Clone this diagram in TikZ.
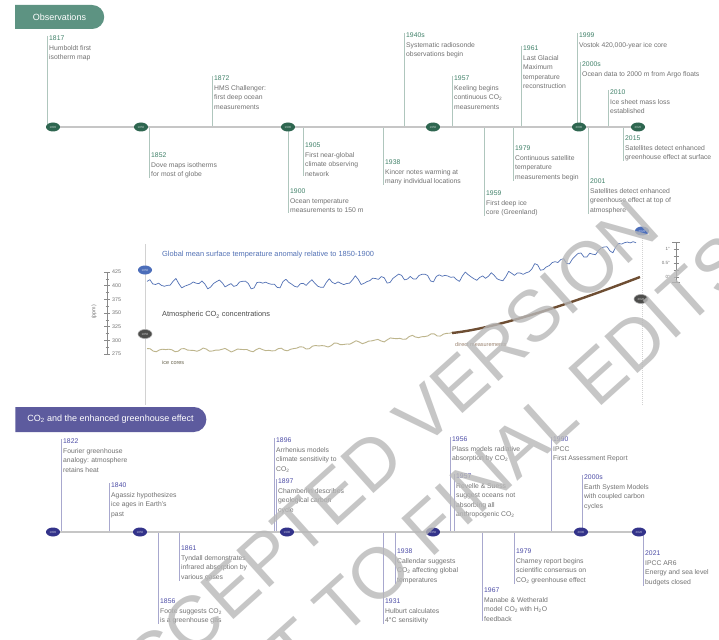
\documentclass[tikz,border=0pt]{standalone}
\usepackage{fontspec}
\setmainfont{Liberation Sans}
\usetikzlibrary{shapes.geometric,shapes.misc}
\definecolor{obsg}{HTML}{5D9382}
\definecolor{ogreen}{HTML}{2E6650}
\definecolor{otickc}{HTML}{AFC6BD}
\definecolor{oyr}{HTML}{3F8068}
\definecolor{txtgray}{HTML}{717171}
\definecolor{lineg}{HTML}{C6C6C6}
\definecolor{pban}{HTML}{5D5B9E}
\definecolor{pdotc}{HTML}{33338A}
\definecolor{ptickc}{HTML}{A8A8CE}
\definecolor{pyr}{HTML}{4B4BA5}
\definecolor{tblue}{HTML}{5271B5}
\definecolor{tdotc}{HTML}{4C6EBA}
\definecolor{cdotc}{HTML}{4D4D4B}
\definecolor{tanc}{HTML}{BDB58C}
\definecolor{brownc}{HTML}{6E4E33}
\definecolor{axg}{HTML}{D2D2D2}
\definecolor{axk}{HTML}{8A8A8A}
\definecolor{wmg}{HTML}{B8B8B8}
\newcommand{\cotwo}{CO\textsubscript{2}}
\newcommand{\oy}[1]{\textcolor{oyr}{#1}}
\newcommand{\py}[1]{\textcolor{pyr}{#1}}
\newcommand\evup[6]{%
  \node[evt] (#1) at (#2+2,#3) {#4};
  \coordinate (#1c) at (#2,#3);
  \draw[#6] (#1c) -- (#1c |- #5);
}
\newcommand\evdn[6]{%
  \node[evt] (#1) at (#2+2,#3) {#4};
  \coordinate (#1c) at (#2,#3);
  \draw[#6] (#1c |- #5) -- (#1c |- #1.south);
}
\tikzset{
  evt/.style={anchor=north west, align=left, inner sep=0pt, font=\fontsize{6.8}{9.4}\selectfont, text=txtgray},
  otick/.style={draw=otickc, line width=0.8pt},
  ptick/.style={draw=ptickc, line width=0.8pt},
  mainln/.style={draw=lineg, line width=1.8pt},
  banner/.style={rounded rectangle, rounded rectangle west arc=none, text=white, font=\fontsize{9}{9}\selectfont, inner sep=0pt},
  dotbase/.style={ellipse, minimum width=14pt, minimum height=9pt, inner sep=0pt, font=\fontsize{3}{3}\selectfont},
  odot/.style={dotbase, fill=ogreen, text=white!70!ogreen},
  pdot/.style={dotbase, fill=pdotc, text=white!70!pdotc},
  tdot/.style={dotbase, fill=tdotc, text=white!70!tdotc},
  cdot/.style={dotbase, fill=cdotc, draw=gray!70, line width=0.6pt, text=white!70!cdotc},
  axlbl/.style={inner sep=0pt, font=\fontsize{5.3}{5.3}\selectfont, text=txtgray},
  wm/.style={inner sep=0pt, text=wmg, text opacity=0.8, font=\fontsize{72}{72}\selectfont}
}
\begin{document}
\begin{tikzpicture}[x=1pt,y=-1pt]
\useasboundingbox (0,0) rectangle (719,639);
\fill[white] (0,0) rectangle (719,639);

% ---------------- Observations ----------------
\node[banner, fill=obsg, minimum width=89pt, minimum height=24pt] (obs) at (59.5,17) {Observations};
\coordinate (otl) at (0,127);

\evup{a1817}{47}{36}{\oy{1817}\\Humboldt first\\isotherm map}{otl}{otick}
\evup{a1872}{212}{76}{\oy{1872}\\HMS Challenger:\\first deep ocean\\measurements}{otl}{otick}
\evup{a1940}{404}{33}{\oy{1940s}\\Systematic radiosonde\\observations begin}{otl}{otick}
\evup{a1957}{452}{76}{\oy{1957}\\Keeling begins\\continuous \cotwo\\measurements}{otl}{otick}
\evup{a1961}{521}{46}{\oy{1961}\\Last Glacial\\Maximum\\temperature\\reconstruction}{otl}{otick}
\evup{a1999}{577}{33}{\oy{1999}\\Vostok 420,000-year ice core}{otl}{otick}
\evup{a2000}{580}{62}{\oy{2000s}\\Ocean data to 2000 m from Argo floats}{otl}{otick}
\evup{a2010}{608}{90}{\oy{2010}\\Ice sheet mass loss\\established}{otl}{otick}

\evdn{b1852}{149}{153}{\oy{1852}\\Dove maps isotherms\\for most of globe}{otl}{otick}
\evdn{b1900}{288}{189}{\oy{1900}\\Ocean temperature\\measurements to 150 m}{otl}{otick}
\evdn{b1905}{303}{143}{\oy{1905}\\First near-global\\climate observing\\network}{otl}{otick}
\evdn{b1938}{383}{160}{\oy{1938}\\Kincer notes warming at\\many individual locations}{otl}{otick}
\evdn{b1959}{484}{191}{\oy{1959}\\First deep ice\\core (Greenland)}{otl}{otick}
\evdn{b1979}{513}{146}{\oy{1979}\\Continuous satellite\\temperature\\measurements begin}{otl}{otick}
\evdn{b2001}{588}{179}{\oy{2001}\\Satellites detect enhanced\\greenhouse effect at top of\\atmosphere}{otl}{otick}
\evdn{b2015}{623}{136}{\oy{2015}\\Satellites detect enhanced\\greenhouse effect at surface}{otl}{otick}

\node[odot] (o1800) at (53,127) {1800};
\node[odot] (o1850) at (141,127) {1850};
\node[odot] (o1900) at (288,127) {1900};
\node[odot] (o1950) at (433,127) {1950};
\node[odot] (o2000) at (579,127) {2000};
\node[odot] (o2020) at (638,127) {2020};
\draw[mainln] (o1800) -- (o1850) (o1850) -- (o1900) (o1900) -- (o1950) (o1950) -- (o2000) (o2000) -- (o2020);

% ---------------- Chart ----------------
\draw[axg, line width=0.6pt] (145,244) -- (145,405);
\draw[axg, line width=0.6pt, dash pattern=on 1pt off 1pt] (642,238) -- (642,405);

\node[anchor=west, inner sep=0pt, font=\fontsize{7.4}{7.4}\selectfont, text=tblue] (ttl) at (162,255) {Global mean surface temperature anomaly relative to 1850-1900};
\node[anchor=west, inner sep=0pt, font=\fontsize{7.4}{7.4}\selectfont, text=black!70] (ctl) at (162,315) {Atmospheric \cotwo\ concentrations};
\node[anchor=west, inner sep=0pt, font=\fontsize{5.5}{5.5}\selectfont, text=black!45!tanc] (icl) at (162,363) {ice cores};
\node[anchor=west, inner sep=0pt, font=\fontsize{5.5}{5.5}\selectfont, text=brownc!70] (dml) at (455,345) {direct measurements};

\draw[tblue, line width=0.7pt, line join=round] plot[domain=147:636, samples=170]
  (\x, {((\x<322) ? 284 : ((\x<410) ? (284-7*(\x-322)/88) : ((\x<505) ? 277 : (277-36*(\x-505)/131)))) + 2.6*sin(16*mod(\x,22.5)) + 1.9*sin(26*mod(\x,13.846154)+30) + 1.3*sin(40*mod(\x,9)+70)});
\draw[tanc, line width=0.9pt, line join=round] plot[domain=147:456, samples=100]
  (\x, {((\x<280) ? 350 : (350-17*(\x-280)/176)) + 1.2*sin(19*mod(\x,18.947368)) + 0.8*sin(33*mod(\x,10.909091)+20)});
\draw[brownc, line width=2.4pt] (452,333) .. controls (500,328) and (580,300) .. (640,277);

\node[tdot] (t1850) at (145,270) {1850};
\node[cdot] (c1850) at (145,334) {1850};
\node[tdot] (t2020) at (642,231) {2020};
\node[cdot] (c2020) at (641,299) {2020};

% left ppm axis
\draw[axk, line width=0.6pt] (107,272) -- (107,354);
\foreach \v in {275,300,...,425} {
  \draw[axk, line width=0.6pt] (104,{354-(\v-275)*82/150}) -- (110,{354-(\v-275)*82/150});
  \node[axlbl, anchor=west] (ax\v) at (112,{354-(\v-275)*82/150}) {\v};
}
\foreach \v in {287.5,312.5,...,412.5} {
  \draw[axk, line width=0.5pt] (105.5,{354-(\v-275)*82/150}) -- (108.5,{354-(\v-275)*82/150});
}
\node[axlbl, rotate=90] (ppm) at (94,312) {(ppm)};

% right temperature scale
\draw[axk, line width=0.6pt] (676,242) -- (676,282);
\draw[axk, line width=0.6pt] (672,242) -- (680,242) (672,282) -- (680,282);
\foreach \yy in {249,256,263,270,277} {
  \draw[axk, line width=0.5pt] (673.5,\yy) -- (678.5,\yy);
}
\node[axlbl, anchor=east, font=\fontsize{4.5}{4.5}\selectfont] (r1) at (670,249) {1°};
\node[axlbl, anchor=east, font=\fontsize{4.5}{4.5}\selectfont] (r05) at (670,263) {0.5°};
\node[axlbl, anchor=east, font=\fontsize{4.5}{4.5}\selectfont] (r0) at (670,277) {0°};

% ---------------- CO2 and greenhouse ----------------
\node[banner, fill=pban, minimum width=191pt, minimum height=25pt] (ghe) at (110.5,419.5) {\cotwo\ and the enhanced greenhouse effect};
\coordinate (ptl) at (0,532);

\evup{c1822}{61}{439}{\py{1822}\\Fourier greenhouse\\analogy: atmosphere\\retains heat}{ptl}{ptick}
\evup{c1840}{109}{483}{\py{1840}\\Agassiz hypothesizes\\ice ages in Earth's\\past}{ptl}{ptick}
\evup{c1896}{274}{438}{\py{1896}\\Arrhenius models\\climate sensitivity to\\\cotwo}{ptl}{ptick}
\evup{c1897}{276}{479}{\py{1897}\\Chamberlin describes\\geological carbon\\cycle}{ptl}{ptick}
\evup{c1956}{450}{437}{\py{1956}\\Plass models radiative\\absorption by \cotwo}{ptl}{ptick}
\evup{c1957}{454}{474}{\py{1957}\\Revelle \& Suess\\suggest oceans not\\absorbing all\\anthropogenic \cotwo}{ptl}{ptick}
\evup{c1990}{551}{437}{\py{1990}\\IPCC\\First Assessment Report}{ptl}{ptick}
\evup{c2000}{582}{475}{\py{2000s}\\Earth System Models\\with coupled carbon\\cycles}{ptl}{ptick}

\evdn{d1856}{158}{599}{\py{1856}\\Foote suggests \cotwo\\is a greenhouse gas}{ptl}{ptick}
\evdn{d1861}{179}{546}{\py{1861}\\Tyndall demonstrates\\infrared absorption by\\various gases}{ptl}{ptick}
\evdn{d1931}{383}{599}{\py{1931}\\Hulburt calculates\\4°C sensitivity}{ptl}{ptick}
\evdn{d1938}{395}{549}{\py{1938}\\Callendar suggests\\\cotwo\ affecting global\\temperatures}{ptl}{ptick}
\evdn{d1967}{482}{588}{\py{1967}\\Manabe \& Wetherald\\model \cotwo\ with H\textsubscript{2}O\\feedback}{ptl}{ptick}
\evdn{d1979}{514}{549}{\py{1979}\\Charney report begins\\scientific consensus on\\\cotwo\ greenhouse effect}{ptl}{ptick}
\evdn{d2021}{643}{551}{\py{2021}\\IPCC AR6\\Energy and sea level\\budgets closed}{ptl}{ptick}

\node[pdot] (p1800) at (53,532) {1800};
\node[pdot] (p1850) at (140,532) {1850};
\node[pdot] (p1900) at (287,532) {1900};
\node[pdot] (p1950) at (433,532) {1950};
\node[pdot] (p2000) at (581,532) {2000};
\node[pdot] (p2020) at (639,532) {2020};
\draw[mainln] (p1800) -- (p1850) (p1850) -- (p1900) (p1900) -- (p1950) (p1950) -- (p2000) (p2000) -- (p2020);

% ---------------- watermark ----------------
\node[wm, rotate=42] (wm1) at (373.5,460.5) {ACCEPTED VERSION};
\node[wm, rotate=42] (wm2) at (403,551) {SUBJECT TO FINAL EDITS};
\end{tikzpicture}
\end{document}
